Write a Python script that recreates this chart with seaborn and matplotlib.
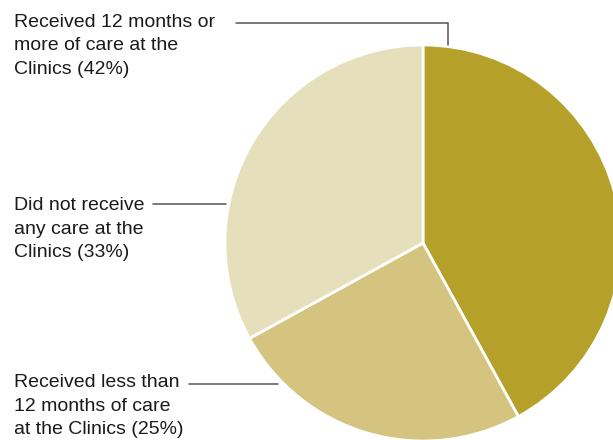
import matplotlib
matplotlib.use("Agg")
import matplotlib.pyplot as plt
import seaborn as sns

sns.set_style("white")
plt.rcParams['font.family'] = ['Liberation Sans', 'DejaVu Sans']

# Data
labels = [
    "Received 12 months or\nmore of care at the\nClinics (42%)",
    "Received less than\n12 months of care\nat the Clinics (25%)",
    "Did not receive\nany care at the\nClinics (33%)",
]
shares = [42, 25, 33]
colors = ["#B5A02A", "#D5C47F", "#E6DFBC"]

W, H = 613, 440
fig = plt.figure(figsize=(W / 100, H / 100), dpi=100)

# pie centre (423, 243) px from top-left, radius 198 px
cx, cy, r = 423, 243, 198
ax = fig.add_axes([(cx - r) / W, (H - cy - r) / H, 2 * r / W, 2 * r / H])
ax.pie(shares, colors=colors, startangle=90, counterclock=False,
       wedgeprops=dict(edgecolor="white", linewidth=2))
ax.set_xlim(-1, 1)
ax.set_ylim(-1, 1)
ax.set_aspect("equal")
ax.axis("off")


def px(x, y):
    # pixel (from top-left) -> data coords of the pie axes
    return (x - cx) / r, (cy - y) / r


line_kw = dict(color="#555555", lw=1.1, clip_on=False)

# leader lines
p1, p2, p3 = px(236, 23), px(448, 23), px(448, 45)
ax.plot([p1[0], p2[0], p3[0]], [p1[1], p2[1], p3[1]], **line_kw)
a, b = px(153, 204), px(226, 204)
ax.plot([a[0], b[0]], [a[1], b[1]], **line_kw)
a, b = px(189, 384), px(278, 384)
ax.plot([a[0], b[0]], [a[1], b[1]], **line_kw)

# labels
text_tops = [14, 374, 197]
for lab, top in zip(labels, text_tops):
    tx, ty = px(14, top)
    ax.text(tx, ty, lab, ha="left", va="top", fontsize=14,
            color="#1a1a1a", linespacing=1.5, clip_on=False)

fig.savefig("out.png", dpi=100)
